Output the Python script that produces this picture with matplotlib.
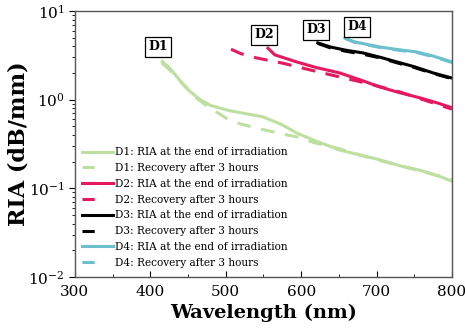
import numpy as np
import matplotlib.pyplot as plt
from matplotlib.lines import Line2D
from matplotlib.ticker import LogLocator, MultipleLocator

plt.rcParams['font.family'] = ['DejaVu Serif']
plt.rcParams['mathtext.fontset'] = 'dejavuserif'

# D1
d1_wl = [416, 425, 439, 452, 466, 480, 495, 505, 520, 549, 575, 594, 620, 651, 680, 704, 730, 757, 780, 800]
d1_end = [2.7, 2.3, 1.66, 1.25, 1.0, 0.86, 0.79, 0.75, 0.71, 0.64, 0.52, 0.42, 0.34, 0.27, 0.235, 0.21, 0.18, 0.16, 0.14, 0.12]
d1r_wl = [415, 425, 440, 455, 470, 485, 503, 520, 549, 575, 594, 621, 650, 691, 720, 760, 800]
d1_rec = [2.6, 2.2, 1.6, 1.15, 0.91, 0.75, 0.6, 0.53, 0.46, 0.41, 0.38, 0.32, 0.28, 0.22, 0.19, 0.155, 0.125]
# D2
d2_wl = [556, 565, 594, 620, 651, 680, 704, 730, 757, 780, 800]
d2_end = [3.8, 3.2, 2.66, 2.3, 2.0, 1.65, 1.39, 1.2, 1.05, 0.92, 0.81]
d2r_wl = [507, 520, 541, 576, 612, 651, 691, 731, 771, 800]
d2_rec = [3.7, 3.3, 2.95, 2.57, 2.16, 1.8, 1.5, 1.22, 0.94, 0.78]
# D3
d3_wl = [622, 640, 660, 682, 705, 727, 750, 775, 800]
d3_end = [4.36, 3.9, 3.6, 3.36, 3.0, 2.66, 2.35, 2.0, 1.75]
d3_rec = [4.3, 3.8, 3.5, 3.25, 2.95, 2.6, 2.3, 1.97, 1.72]
# D4
d4_wl = [658, 670, 690, 704, 730, 753, 775, 800]
d4_end = [4.97, 4.5, 4.15, 3.93, 3.65, 3.45, 3.1, 2.66]
d4_rec = [4.9, 4.45, 4.1, 3.88, 3.6, 3.4, 3.05, 2.62]

# posicao das etiquetas D1..D4
tag_names = ['D1', 'D2', 'D3', 'D4']
tag_x = [410, 551, 620, 674]
tag_y = [3.93, 5.37, 6.1, 6.6]

c1, c2, c3, c4 = '#bde0a0', '#e8185c', '#000000', '#6cbfcc'
lw = 2.2
dash = (0, (4.5, 3.5))

fig = plt.figure(figsize=(4.65, 3.32), dpi=100)
ax = fig.add_axes([0.161, 0.166, 0.811, 0.801])

ax.plot(d1_wl, d1_end, color=c1, lw=lw)
ax.plot(d1r_wl, d1_rec, color=c1, lw=lw, ls=dash)
ax.plot(d2_wl, d2_end, color=c2, lw=lw)
ax.plot(d2r_wl, d2_rec, color=c2, lw=lw, ls=dash)
ax.plot(d3_wl, d3_end, color=c3, lw=lw)
ax.plot(d3_wl, d3_rec, color=c3, lw=lw, ls=dash)
ax.plot(d4_wl, d4_end, color=c4, lw=lw)
ax.plot(d4_wl, d4_rec, color=c4, lw=lw, ls=dash)

for n, x, y in zip(tag_names, tag_x, tag_y):
    ax.text(x, y, n, ha='center', va='center', fontsize=9, fontweight='bold',
            bbox=dict(boxstyle='square,pad=0.25', fc='white', ec='black', lw=0.9))

# legenda com alças próprias (tracejado mostra um só traço)
handles, labels = [], []
for nome, c in zip(tag_names, [c1, c2, c3, c4]):
    handles.append(Line2D([], [], color=c, lw=lw))
    labels.append(nome + ': RIA at the end of irradiation')
    handles.append(Line2D([], [], color=c, lw=lw, ls=(0, (4, 30))))
    labels.append(nome + ': Recovery after 3 hours')
ax.legend(handles, labels, loc='lower left', bbox_to_anchor=(-0.005, 0.0), frameon=False,
          fontsize=7.6, handlelength=2.9, handletextpad=0.25, labelspacing=0.55,
          borderaxespad=0.45)

ax.set_yscale('log')
ax.set_xlim(300, 800)
ax.set_ylim(1e-2, 1e1)
ax.xaxis.set_major_locator(MultipleLocator(100))
ax.xaxis.set_minor_locator(MultipleLocator(50))
ax.yaxis.set_major_locator(LogLocator(base=10))
ax.yaxis.set_minor_locator(LogLocator(base=10, subs=np.arange(2, 10)))
ax.tick_params(axis='x', which='both', direction='in', labelsize=11, pad=6)
ax.tick_params(axis='y', which='both', direction='out', labelsize=11)
ax.tick_params(which='major', length=4)
ax.tick_params(which='minor', length=2)
for s in ax.spines.values():
    s.set_color('#555555')
    s.set_linewidth(1.0)

ax.set_xlabel('Wavelength (nm)', fontsize=14, fontweight='bold', labelpad=3)
ax.set_ylabel('RIA (dB/mm)', fontsize=16, fontweight='bold')
ax.yaxis.set_label_coords(-0.12, 0.5)

fig.savefig('out.png', dpi=100)
